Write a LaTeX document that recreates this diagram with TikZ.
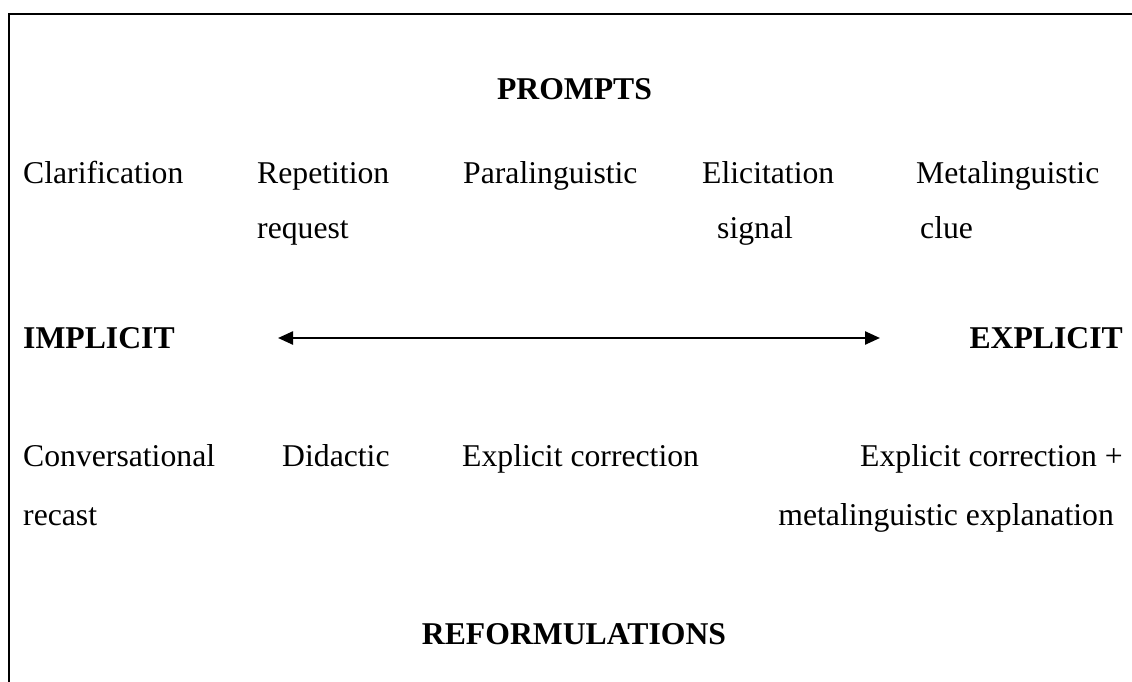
\documentclass[tikz,border=0pt]{standalone}
\usepackage{fontspec}
\setmainfont{Liberation Serif}
\usetikzlibrary{arrows.meta}
\begin{document}
\begin{tikzpicture}[x=1pt,y=-1pt,
  lbl/.style={inner sep=0pt,anchor=base west,font=\fontsize{31.7}{38}\selectfont},
  lble/.style={lbl,anchor=base east},
  head/.style={lbl,font=\fontsize{31.7}{38}\selectfont\bfseries},
  frame/.style={line width=2pt},
  scale arrow/.style={line width=2.4pt,{Triangle[length=15pt,width=13pt]}-{Triangle[length=15pt,width=13pt]}}]
\useasboundingbox (0,0) rectangle (1132,682);
\fill[white] (0,0) rectangle (1132,682);
\draw[frame] (9,682) -- (9,14) -- (1132,14);
% prompts
\node[head,anchor=base] (prompts) at (574.5,100) {PROMPTS};
\node[lbl] (clar) at (23,183) {Clarification};
\node[lbl] (rep) at (257,183) {Repetition};
\node[lbl] (req) at (257,238) {request};
\node[lbl] (para) at (463,183) {Paralinguistic};
\node[lbl] (elic) at (702,183) {Elicitation};
\node[lbl] (sig) at (717,238) {signal};
\node[lbl] (meta) at (916,183) {Metalinguistic};
\node[lbl] (clue) at (920,238) {clue};
% scale
\node[head] (impl) at (23,348) {IMPLICIT};
\node[head,anchor=base east] (expl) at (1123,348) {EXPLICIT};
\coordinate (aL) at (278,338);
\coordinate (aR) at (880,338);
\draw[scale arrow] (aL) -- (aR);
% reformulations
\node[lbl] (conv) at (23,466) {Conversational};
\node[lbl] (recast) at (23,525) {recast};
\node[lbl] (did) at (282,466) {Didactic};
\node[lbl] (ec) at (462,466) {Explicit correction};
\node[lble] (ecp) at (1123,466) {Explicit correction +};
\node[lble] (mex) at (1114,525) {metalinguistic explanation};
\node[head,anchor=base] (reform) at (574,644) {REFORMULATIONS};
\end{tikzpicture}
\end{document}
